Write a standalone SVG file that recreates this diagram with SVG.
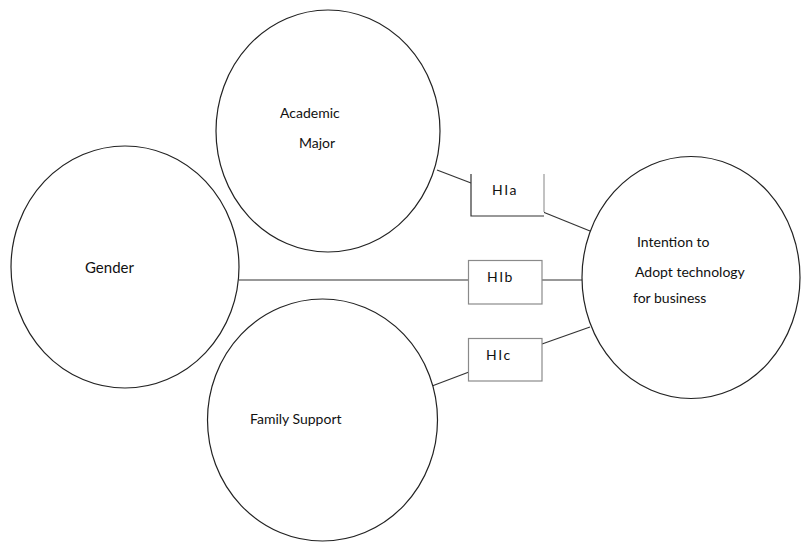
<svg xmlns="http://www.w3.org/2000/svg" width="801" height="542" viewBox="0 0 801 542">
<style>
.node{fill:#fff;stroke:#222;stroke-width:1.2}
.box{fill:#fff;stroke:#8a8a8a;stroke-width:1.2}
.edge{fill:none;stroke:#333;stroke-width:1.2}
text{font-family:Lato,"Liberation Sans",sans-serif;font-size:14px;fill:#111}
.hl{letter-spacing:1.5px}
</style>
<rect width="801" height="542" fill="#fff"/>
<g id="connectors">
<line class="edge" x1="437" y1="170" x2="471" y2="183"/>
<line class="edge" x1="543" y1="212" x2="590" y2="231"/>
<line class="edge" x1="239" y1="280" x2="469" y2="280"/>
<line class="edge" x1="542" y1="280" x2="582" y2="280"/>
<line class="edge" x1="542" y1="344" x2="590" y2="327"/>
<line class="edge" x1="432" y1="386" x2="469" y2="372"/>
</g>
<g id="academic-major">
<ellipse class="node" cx="328" cy="131" rx="112" ry="121"/>
<text x="280" y="118">Academic</text>
<text x="299" y="148">Major</text>
</g>
<g id="gender">
<ellipse class="node" cx="125" cy="267" rx="114" ry="121"/>
<text x="85" y="273" style="font-size:15px">Gender</text>
</g>
<g id="family-support">
<ellipse class="node" cx="322.5" cy="420" rx="115" ry="121"/>
<text x="250" y="424">Family Support</text>
</g>
<g id="intention">
<ellipse class="node" cx="691" cy="277.5" rx="109" ry="121"/>
<text x="637" y="247">Intention to</text>
<text x="635" y="277">Adopt technology</text>
<text x="633" y="303">for business</text>
</g>
<g id="h1a">
<rect x="471" y="174" width="73" height="42" fill="#fff"/>
<polyline points="471,174 471,216 544,216" fill="none" stroke="#333" stroke-width="1.2"/>
<line x1="544" y1="174" x2="544" y2="212" stroke="#999" stroke-width="1.2"/>
<text class="hl" x="492" y="195">HIa</text>
</g>
<g id="h1b">
<rect class="box" x="468.5" y="260.5" width="73.5" height="43.5"/>
<text class="hl" x="487" y="282">HIb</text>
</g>
<g id="h1c">
<rect class="box" x="468.5" y="338.5" width="73.5" height="42.5"/>
<text class="hl" x="486" y="360">HIc</text>
</g>
</svg>
